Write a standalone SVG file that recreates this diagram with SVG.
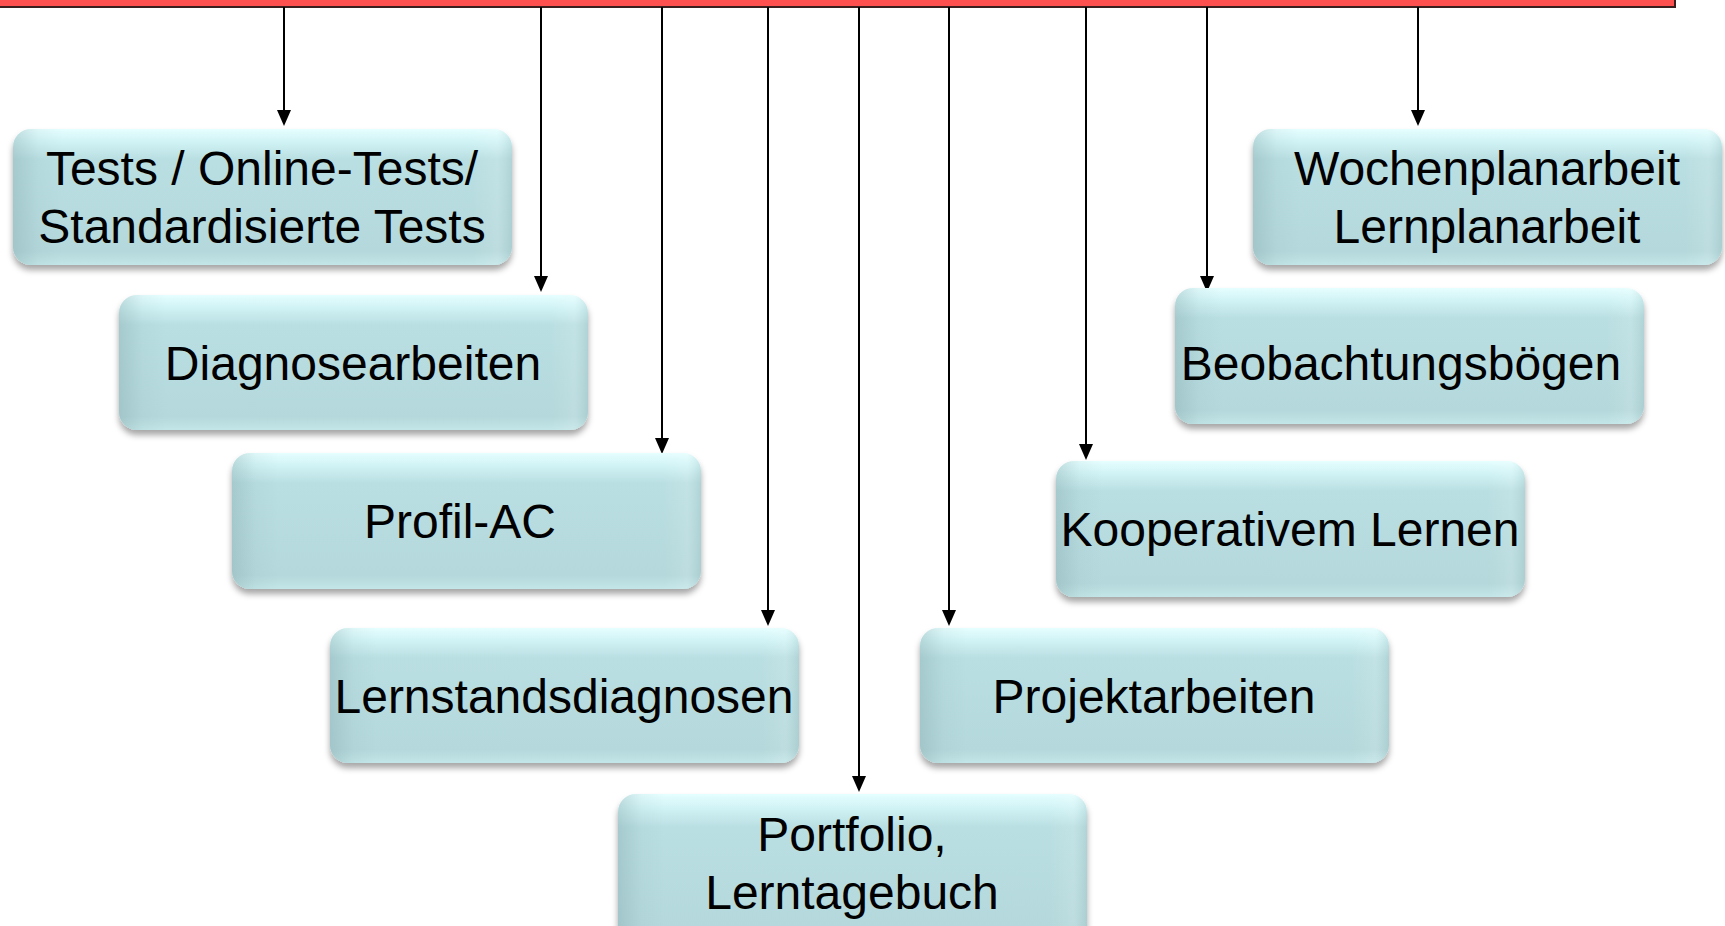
<svg xmlns="http://www.w3.org/2000/svg" width="1725" height="926" viewBox="0 0 1725 926">
<defs>
<linearGradient id="gv" x1="0" y1="0" x2="0" y2="1">
<stop offset="0" stop-color="#e6feff"/>
<stop offset="0.1" stop-color="#cff2f4"/>
<stop offset="0.22" stop-color="#badfe2"/>
<stop offset="0.9" stop-color="#b4d8db"/>
<stop offset="1" stop-color="#c3e6e8"/>
</linearGradient>
<linearGradient id="gh" x1="0" y1="0" x2="1" y2="0">
<stop offset="0" stop-color="#7fa3a6" stop-opacity="0.35"/>
<stop offset="0.05" stop-color="#7fa3a6" stop-opacity="0.08"/>
<stop offset="0.1" stop-color="#7fa3a6" stop-opacity="0"/>
<stop offset="0.92" stop-color="#ffffff" stop-opacity="0"/>
<stop offset="0.97" stop-color="#ffffff" stop-opacity="0.12"/>
<stop offset="1" stop-color="#7fa3a6" stop-opacity="0.2"/>
</linearGradient>
<filter id="sh" x="-5%" y="-10%" width="110%" height="125%">
<feDropShadow dx="0" dy="5" stdDeviation="3" flood-color="#000" flood-opacity="0.35"/>
</filter>
</defs>
<style>
.box{fill:url(#gv);filter:url(#sh)}
.ov{fill:url(#gh)}
.t{font-family:"Liberation Sans",Arial,sans-serif;font-size:48px;fill:#000;text-anchor:middle}
.c{stroke:#000;stroke-width:2;fill:none}
.a{fill:#000}
</style>
<rect x="-10" y="-20" width="1685" height="27" fill="#ff5050" stroke="#3b1e1e" stroke-width="2"/>
<g id="connectors">
<line class="c" x1="284" y1="7" x2="284" y2="112"/>
<path class="a" d="M277,110 L291,110 L284,126 Z"/>
<line class="c" x1="541" y1="7" x2="541" y2="278"/>
<path class="a" d="M534,276 L548,276 L541,292 Z"/>
<line class="c" x1="662" y1="7" x2="662" y2="440"/>
<path class="a" d="M655,438 L669,438 L662,454 Z"/>
<line class="c" x1="768" y1="7" x2="768" y2="612"/>
<path class="a" d="M761,610 L775,610 L768,626 Z"/>
<line class="c" x1="859" y1="7" x2="859" y2="778"/>
<path class="a" d="M852,776 L866,776 L859,792 Z"/>
<line class="c" x1="949" y1="7" x2="949" y2="612"/>
<path class="a" d="M942,610 L956,610 L949,626 Z"/>
<line class="c" x1="1086" y1="7" x2="1086" y2="446"/>
<path class="a" d="M1079,444 L1093,444 L1086,460 Z"/>
<line class="c" x1="1207" y1="7" x2="1207" y2="278"/>
<path class="a" d="M1200,276 L1214,276 L1207,292 Z"/>
<line class="c" x1="1418" y1="7" x2="1418" y2="112"/>
<path class="a" d="M1411,110 L1425,110 L1418,126 Z"/>
</g>
<g id="n1">
<rect class="box" x="13" y="129" width="499" height="136" rx="18"/>
<rect class="ov" x="13" y="129" width="499" height="136" rx="18"/>
<text class="t" x="262" y="185">Tests / Online-Tests/</text>
<text class="t" x="262" y="243">Standardisierte Tests</text>
</g>
<g id="n2">
<rect class="box" x="119" y="295" width="469" height="135" rx="18"/>
<rect class="ov" x="119" y="295" width="469" height="135" rx="18"/>
<text class="t" x="353" y="380">Diagnosearbeiten</text>
</g>
<g id="n3">
<rect class="box" x="232" y="453" width="469" height="136" rx="18"/>
<rect class="ov" x="232" y="453" width="469" height="136" rx="18"/>
<text class="t" x="460" y="538">Profil-AC</text>
</g>
<g id="n4">
<rect class="box" x="330" y="628" width="469" height="135" rx="18"/>
<rect class="ov" x="330" y="628" width="469" height="135" rx="18"/>
<text class="t" x="564" y="713">Lernstandsdiagnosen</text>
</g>
<g id="n5">
<rect class="box" x="618" y="794" width="469" height="150" rx="18"/>
<rect class="ov" x="618" y="794" width="469" height="150" rx="18"/>
<text class="t" x="852" y="851">Portfolio,</text>
<text class="t" x="852" y="909">Lerntagebuch</text>
</g>
<g id="n6">
<rect class="box" x="920" y="628" width="469" height="135" rx="18"/>
<rect class="ov" x="920" y="628" width="469" height="135" rx="18"/>
<text class="t" x="1154" y="713">Projektarbeiten</text>
</g>
<g id="n7">
<rect class="box" x="1056" y="461" width="469" height="136" rx="18"/>
<rect class="ov" x="1056" y="461" width="469" height="136" rx="18"/>
<text class="t" x="1290" y="546">Kooperativem Lernen</text>
</g>
<g id="n8">
<rect class="box" x="1175" y="288" width="469" height="136" rx="18"/>
<rect class="ov" x="1175" y="288" width="469" height="136" rx="18"/>
<text class="t" x="1401" y="380">Beobachtungsbögen</text>
</g>
<g id="n9">
<rect class="box" x="1253" y="129" width="469" height="136" rx="18"/>
<rect class="ov" x="1253" y="129" width="469" height="136" rx="18"/>
<text class="t" x="1487" y="185">Wochenplanarbeit</text>
<text class="t" x="1487" y="243">Lernplanarbeit</text>
</g>
</svg>
